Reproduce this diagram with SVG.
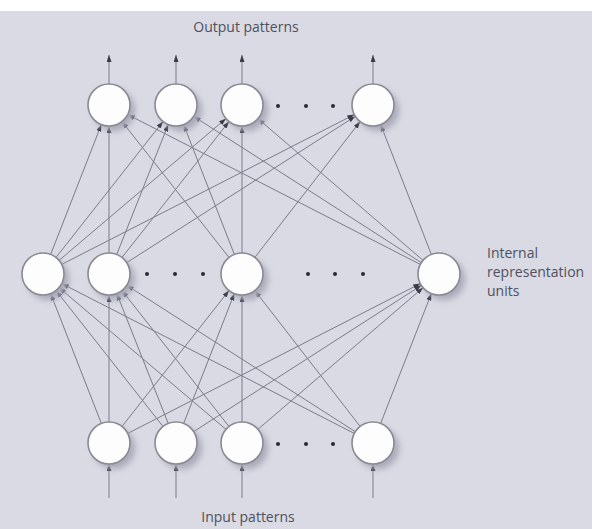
<svg xmlns="http://www.w3.org/2000/svg" width="592" height="529" viewBox="0 0 592 529">
<style>
.bg{fill:#d9dae3}
.lbl{font-family:"Open Sans","Liberation Sans",sans-serif;font-size:14px;fill:#50505e}
.conn line{stroke:#7c7c8a;stroke-width:1;fill:none;marker-end:url(#ah)}
.node .c{fill:#fdfdfe;stroke:#8a8a94;stroke-width:1.6}
.node .sh{fill:#a9a9b9;filter:url(#blur)}
.dot{fill:#2a2a33}
</style>
<defs>
<marker id="ah" markerUnits="userSpaceOnUse" markerWidth="7" markerHeight="5" refX="7" refY="2.5" orient="auto">
<path d="M0,0 L7,2.5 L0,5 z" fill="#3a3a48"/>
</marker>
<filter id="blur" x="-50%" y="-50%" width="200%" height="200%"><feGaussianBlur stdDeviation="3"/></filter>
</defs>
<rect x="0" y="0" width="592" height="529" fill="#ffffff"/>
<rect class="bg" x="0" y="11" width="592" height="518"/>

<text class="lbl" x="246" y="32" text-anchor="middle">Output patterns</text>
<text class="lbl" x="248" y="522" text-anchor="middle">Input patterns</text>
<text class="lbl" x="487" y="258">Internal</text>
<text class="lbl" x="487" y="277">representation</text>
<text class="lbl" x="487" y="296">units</text>

<g id="connectors" class="conn">
<!-- input arrows -->
<line x1="109" y1="498" x2="109" y2="464"/>
<line x1="176" y1="498" x2="176" y2="464"/>
<line x1="242" y1="498" x2="242" y2="464"/>
<line x1="373" y1="498" x2="373" y2="464"/>
<!-- output arrows -->
<line x1="109" y1="84" x2="109" y2="55"/>
<line x1="176" y1="84" x2="176" y2="55"/>
<line x1="242" y1="84" x2="242" y2="55"/>
<line x1="373" y1="84" x2="373" y2="55"/>
<!-- input -> hidden -->
<line x1="101.36" y1="423.44" x2="50.64" y2="293.56"/>
<line x1="109" y1="422" x2="109" y2="295"/>
<line x1="121.99" y1="426.5" x2="229.01" y2="290.5"/>
<line x1="127.69" y1="433.43" x2="420.31" y2="283.57"/>
<line x1="163.01" y1="426.5" x2="55.99" y2="290.5"/>
<line x1="168.26" y1="423.48" x2="116.74" y2="293.52"/>
<line x1="183.64" y1="423.44" x2="234.36" y2="293.56"/>
<line x1="193.67" y1="431.65" x2="421.33" y2="285.35"/>
<line x1="225.99" y1="429.41" x2="59.01" y2="287.59"/>
<line x1="229.01" y1="426.5" x2="121.99" y2="290.5"/>
<line x1="242" y1="422" x2="242" y2="295"/>
<line x1="257.94" y1="429.33" x2="423.06" y2="287.67"/>
<line x1="354.31" y1="433.43" x2="61.69" y2="283.57"/>
<line x1="355.31" y1="431.68" x2="126.69" y2="285.32"/>
<line x1="360.13" y1="426.4" x2="254.87" y2="290.6"/>
<line x1="380.64" y1="423.44" x2="431.36" y2="293.56"/>
<!-- hidden -> output -->
<line x1="50.64" y1="254.44" x2="101.36" y2="124.56"/>
<line x1="55.99" y1="257.5" x2="163.01" y2="121.5"/>
<line x1="59.01" y1="260.41" x2="225.99" y2="118.59"/>
<line x1="61.69" y1="264.43" x2="354.31" y2="114.57"/>
<line x1="109" y1="253" x2="109" y2="126"/>
<line x1="116.74" y1="254.48" x2="168.26" y2="124.52"/>
<line x1="121.99" y1="257.5" x2="229.01" y2="121.5"/>
<line x1="126.69" y1="262.68" x2="355.31" y2="116.32"/>
<line x1="229.01" y1="257.5" x2="121.99" y2="121.5"/>
<line x1="234.36" y1="254.44" x2="183.64" y2="124.56"/>
<line x1="242" y1="253" x2="242" y2="126"/>
<line x1="254.87" y1="257.4" x2="360.13" y2="121.6"/>
<line x1="420.31" y1="264.43" x2="127.69" y2="114.57"/>
<line x1="421.33" y1="262.65" x2="193.67" y2="116.35"/>
<line x1="423.06" y1="260.33" x2="257.94" y2="118.67"/>
<line x1="431.36" y1="254.44" x2="380.64" y2="124.56"/>
</g>

<g id="out1" class="node"><circle class="sh" cx="114" cy="110" r="21"/><circle class="c" cx="109" cy="105" r="21"/></g>
<g id="out2" class="node"><circle class="sh" cx="181" cy="110" r="21"/><circle class="c" cx="176" cy="105" r="21"/></g>
<g id="out3" class="node"><circle class="sh" cx="247" cy="110" r="21"/><circle class="c" cx="242" cy="105" r="21"/></g>
<g id="out4" class="node"><circle class="sh" cx="378" cy="110" r="21"/><circle class="c" cx="373" cy="105" r="21"/></g>

<g id="hid1" class="node"><circle class="sh" cx="48" cy="279" r="21"/><circle class="c" cx="43" cy="274" r="21"/></g>
<g id="hid2" class="node"><circle class="sh" cx="114" cy="279" r="21"/><circle class="c" cx="109" cy="274" r="21"/></g>
<g id="hid3" class="node"><circle class="sh" cx="247" cy="279" r="21"/><circle class="c" cx="242" cy="274" r="21"/></g>
<g id="hid4" class="node"><circle class="sh" cx="444" cy="279" r="21"/><circle class="c" cx="439" cy="274" r="21"/></g>

<g id="in1" class="node"><circle class="sh" cx="114" cy="448" r="21"/><circle class="c" cx="109" cy="443" r="21"/></g>
<g id="in2" class="node"><circle class="sh" cx="181" cy="448" r="21"/><circle class="c" cx="176" cy="443" r="21"/></g>
<g id="in3" class="node"><circle class="sh" cx="247" cy="448" r="21"/><circle class="c" cx="242" cy="443" r="21"/></g>
<g id="in4" class="node"><circle class="sh" cx="378" cy="448" r="21"/><circle class="c" cx="373" cy="443" r="21"/></g>

<g id="ellipses">
<circle class="dot" cx="278" cy="106" r="2"/><circle class="dot" cx="306" cy="106" r="2"/><circle class="dot" cx="333" cy="106" r="2"/>
<circle class="dot" cx="147" cy="274" r="2"/><circle class="dot" cx="175" cy="274" r="2"/><circle class="dot" cx="203" cy="274" r="2"/>
<circle class="dot" cx="308" cy="274" r="2"/><circle class="dot" cx="335" cy="274" r="2"/><circle class="dot" cx="363" cy="274" r="2"/>
<circle class="dot" cx="278" cy="444" r="2"/><circle class="dot" cx="306" cy="444" r="2"/><circle class="dot" cx="333" cy="444" r="2"/>
</g>
</svg>
